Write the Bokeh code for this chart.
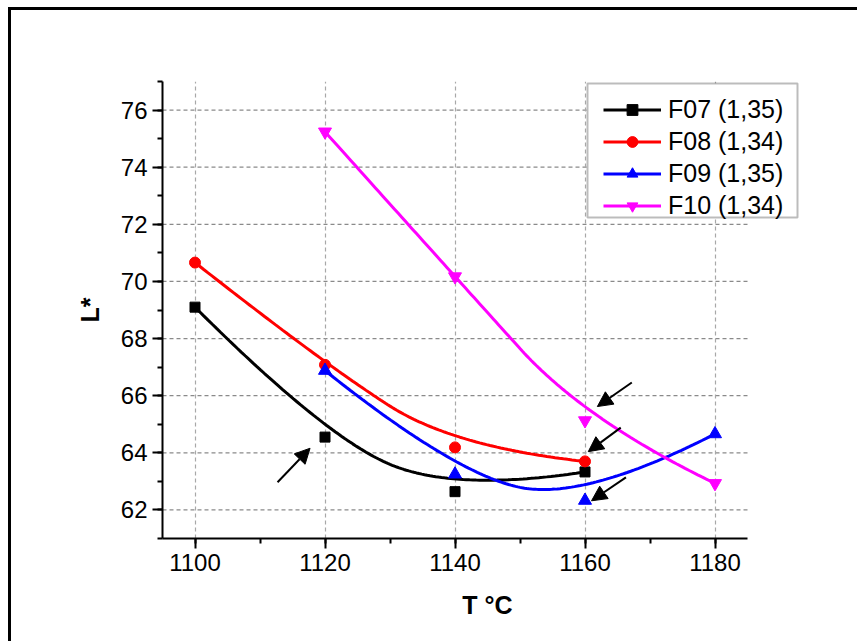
import numpy as np
from bokeh.plotting import figure
from bokeh.models import (Range1d, SingleIntervalTicker, Legend, LegendItem,
                          BoxAnnotation, Arrow, NormalHead, InlineStyleSheet)
from bokeh.embed import file_html
from bokeh.resources import INLINE

# ---- data ----
temps_a = [1100, 1120, 1140, 1160]
temps_b = [1120, 1140, 1160, 1180]
f07 = [69.10, 64.55, 62.64, 63.33]
f08 = [70.66, 67.08, 64.19, 63.70]
f09 = [66.88, 63.25, 62.33, 64.66]
f10 = [75.24, 70.17, 65.13, 62.93]
labels = ["F07 (1,35)", "F08 (1,34)", "F09 (1,35)", "F10 (1,34)"]
colors = ["black", "red", "blue", "magenta"]
markers = ["square", "circle", "triangle", "inverted_triangle"]
x_ticks = [1100, 1120, 1140, 1160, 1180]
y_ticks = [62, 64, 66, 68, 70, 72, 74, 76]
x_axis_span = (1095, 1185)
y_axis_span = (61, 77)

# arrow annotations (tail x, tail y, head x, head y) in data units
arrows = [
    (1112.7, 62.97, 1117.7, 64.16),
    (1167.2, 66.46, 1161.9, 65.62),
    (1165.5, 64.88, 1160.5, 64.04),
    (1166.3, 63.14, 1161.0, 62.32),
]

FONT = "Liberation Sans"


def bspline2(xs, ys, n=60):
    """Clamped quadratic B-spline with the data points as control points."""
    P = np.column_stack([xs, ys]).astype(float)
    m = len(P)
    out = []
    for i in range(m - 2):
        a = P[0] if i == 0 else (P[i] + P[i + 1]) / 2
        c = P[m - 1] if i == m - 3 else (P[i + 1] + P[i + 2]) / 2
        b = P[i + 1]
        t = np.linspace(0, 1, n)[:, None]
        seg = (1 - t) ** 2 * a + 2 * t * (1 - t) * b + t ** 2 * c
        out.append(seg if i == 0 else seg[1:])
    pts = np.vstack(out)
    return pts[:, 0], pts[:, 1]


# frame: x 162..812 px (6.5 px per degree), y 81..538 px
p = figure(width=857, height=641, output_backend="svg", toolbar_location=None,
           x_range=Range1d(1095, 1195), y_range=Range1d(*y_axis_span),
           min_border_left=162, min_border_right=45,
           min_border_top=81, min_border_bottom=103,
           background_fill_color="white", border_fill_color="white")
p.outline_line_color = None

p.xaxis.ticker = SingleIntervalTicker(interval=20, num_minor_ticks=2)
p.yaxis.ticker = SingleIntervalTicker(interval=2, num_minor_ticks=2)
p.xaxis.bounds = x_axis_span
for ax in (p.xaxis, p.yaxis):
    ax.axis_line_width = 2
    ax.axis_line_color = "black"
    ax.major_tick_line_width = 2
    ax.minor_tick_line_width = 2
    ax.major_tick_line_color = "black"
    ax.minor_tick_line_color = "black"
    ax.major_tick_out = 10
    ax.major_tick_in = 0
    ax.minor_tick_out = 5
    ax.minor_tick_in = 0
    ax.major_label_text_font = FONT
    ax.major_label_text_font_size = "24px"
    ax.major_label_text_color = "black"
    ax.axis_label_text_font = FONT
    ax.axis_label_text_font_size = "25px"
    ax.axis_label_text_font_style = "bold"
    ax.axis_label_text_color = "black"
p.xaxis.axis_label = "T °C"
p.yaxis.axis_label = "L*"
p.xaxis.major_label_standoff = 5
p.yaxis.major_label_standoff = 5
p.xaxis.axis_label_standoff = 17
p.yaxis.axis_label_standoff = 14

# vertical grid (built-in), horizontal grid limited to the axis span
p.xgrid.grid_line_color = "#a8a8a8"
p.xgrid.grid_line_dash = "4 3"
p.xgrid.grid_line_width = 1.2
p.xgrid.bounds = x_axis_span
p.ygrid.visible = False
p.segment(x0=[x_axis_span[0]] * len(y_ticks), x1=[x_axis_span[1]] * len(y_ticks),
          y0=y_ticks, y1=y_ticks, line_color="#8a8a8a", line_dash="4 3",
          line_width=1.2, level="underlay")

series = [(temps_a, f07), (temps_a, f08), (temps_b, f09), (temps_b, f10)]
items = []
for (xs, ys), lab, col, mk in zip(series, labels, colors, markers):
    cx, cy = bspline2(xs, ys)
    ln = p.line(cx, cy, line_color=col, line_width=3)
    size = 10 if mk == "square" else (11 if mk == "circle" else 13)
    sc = p.scatter(xs, ys, marker=mk, size=size, fill_color=col, line_color=col)
    items.append(LegendItem(label=lab, renderers=[ln, sc]))

for (x0, y0, x1, y1) in arrows:
    p.add_layout(Arrow(x_start=x0, y_start=y0, x_end=x1, y_end=y1,
                       line_color="black", line_width=2,
                       end=NormalHead(size=15, fill_color="black", line_color="black")))

# legend frame
p.add_layout(BoxAnnotation(left=587, right=797, top=83, bottom=217,
                           left_units="canvas", right_units="canvas",
                           top_units="canvas", bottom_units="canvas",
                           fill_color="white", fill_alpha=1.0,
                           line_color="#202020", line_width=2))

legend = Legend(items=items, location=(441, 318), margin=0, padding=4,
                spacing=3, glyph_width=58, glyph_height=27, label_height=27,
                label_standoff=7, border_line_color=None,
                background_fill_alpha=0.0,
                label_text_font=FONT, label_text_font_size="25px",
                label_text_color="black")
p.add_layout(legend, "center")

# outer picture frame (only its top and left edges are in view)
p.stylesheets = [InlineStyleSheet(css=(
    ":host::before { content: ''; position: fixed; left: 8px; top: 7px; "
    "right: 0px; height: 2.5px; background: black; pointer-events: none; z-index: 100; }"
    ":host::after { content: ''; position: fixed; left: 8px; top: 7px; "
    "width: 2.5px; bottom: 0px; background: black; pointer-events: none; z-index: 100; }"))]

open("out.html", "w").write(file_html(p, INLINE))
